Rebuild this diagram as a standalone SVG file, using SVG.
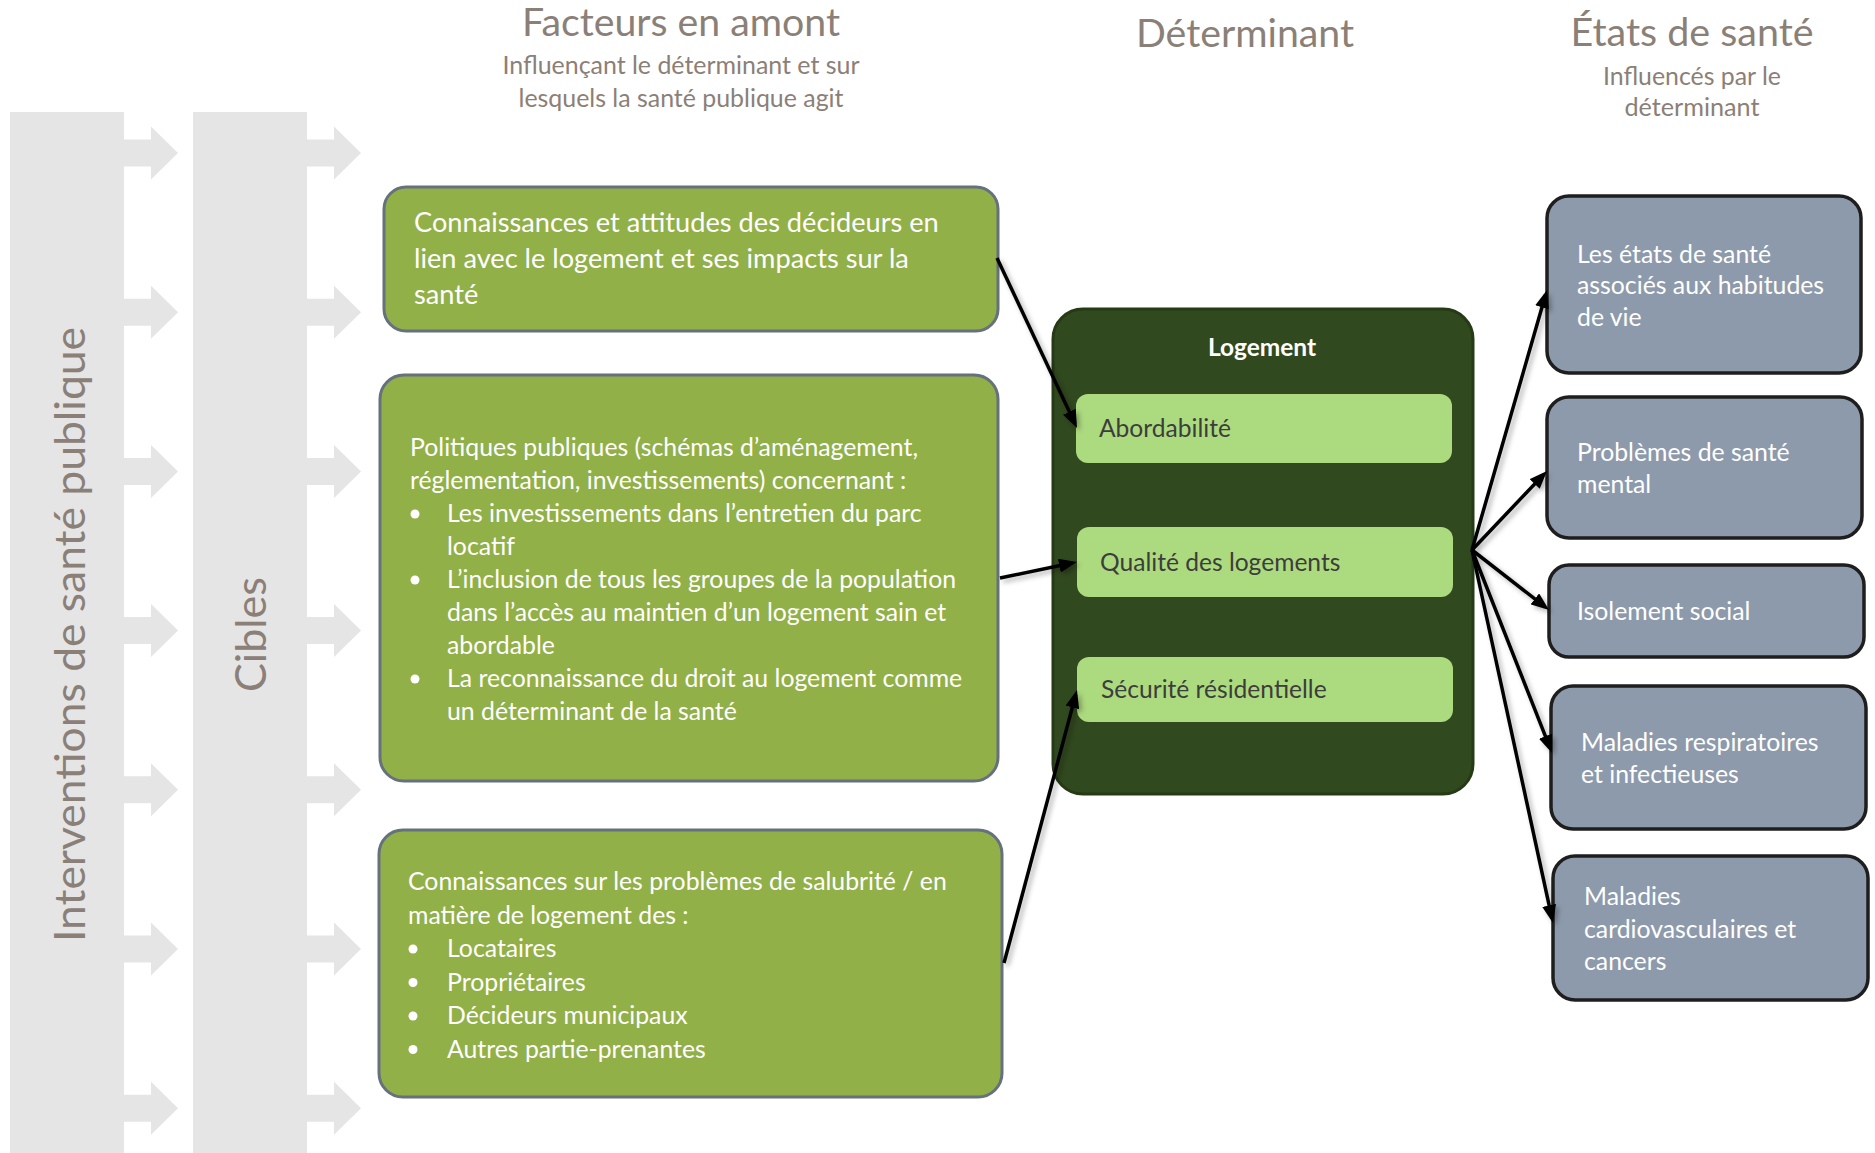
<svg xmlns="http://www.w3.org/2000/svg" width="1875" height="1153" viewBox="0 0 1875 1153">
  <style>
    .hdr { font-family: Lato, "Open Sans", sans-serif; font-weight: 400; fill: #8b8078; }
    .h1 { font-size: 38px; }
    .sub { font-size: 24.5px; }
    .side { font-family: Lato, "Open Sans", sans-serif; font-weight: 400; font-size: 43px; fill: #8b8078; }
    .gbox { fill: #92b048; stroke: #66717e; stroke-width: 3; }
    .wt { font-family: Lato, "Open Sans", sans-serif; fill: #ffffff; }
    .t265 { font-size: 24.8px; }
    .t29 { font-size: 27.2px; }
    .inner { fill: #acda7e; }
    .dt { font-family: Lato, "Open Sans", sans-serif; font-size: 24.6px; fill: #3d3d3d; }
    .rbox { fill: #8d9aab; stroke: #1e1e1e; stroke-width: 3.5; }
    .conn { stroke: #000; stroke-width: 3.5; fill: none; marker-end: url(#ah); }
    .gray { fill: #e5e5e5; }
  </style>
  <defs>
    <marker id="ah" markerUnits="userSpaceOnUse" markerWidth="18" markerHeight="14" viewBox="0 0 18 14" refX="13" refY="7" orient="auto">
      <path d="M0,0 L18,7 L0,14 z" fill="#000"/>
    </marker>
    <filter id="sh" x="-20%" y="-20%" width="140%" height="140%">
      <feDropShadow dx="3" dy="3" stdDeviation="2.5" flood-color="#000" flood-opacity="0.3"/>
    </filter>
    <path id="garrow" d="M0,-13.5 L27,-13.5 L27,-26.5 L54,0 L27,26.5 L27,13.5 L0,13.5 z"/>
  </defs>

  <!-- Left gray bars -->
  <g id="interventions">
    <rect class="gray" x="10" y="112" width="114" height="1041"/>
    <g class="gray">
      <use href="#garrow" x="124" y="153"/>
      <use href="#garrow" x="124" y="312.2"/>
      <use href="#garrow" x="124" y="471.4"/>
      <use href="#garrow" x="124" y="630.6"/>
      <use href="#garrow" x="124" y="789.8"/>
      <use href="#garrow" x="124" y="949"/>
      <use href="#garrow" x="124" y="1108.2"/>
    </g>
    <text class="side" transform="translate(85,634.5) rotate(-90)" text-anchor="middle" textLength="615" lengthAdjust="spacingAndGlyphs">Interventions de santé publique</text>
  </g>
  <g id="cibles">
    <rect class="gray" x="193" y="112" width="114" height="1041"/>
    <g class="gray">
      <use href="#garrow" x="307" y="153"/>
      <use href="#garrow" x="307" y="312.2"/>
      <use href="#garrow" x="307" y="471.4"/>
      <use href="#garrow" x="307" y="630.6"/>
      <use href="#garrow" x="307" y="789.8"/>
      <use href="#garrow" x="307" y="949"/>
      <use href="#garrow" x="307" y="1108.2"/>
    </g>
    <text class="side" transform="translate(266,634.5) rotate(-90)" text-anchor="middle" textLength="115" lengthAdjust="spacingAndGlyphs">Cibles</text>
  </g>

  <!-- Headers -->
  <g id="header-facteurs" class="hdr" text-anchor="middle">
    <text class="h1" x="681" y="36" textLength="318" lengthAdjust="spacingAndGlyphs">Facteurs en amont</text>
    <text class="sub" x="681" y="74" textLength="357" lengthAdjust="spacingAndGlyphs">Influençant le déterminant et sur</text>
    <text class="sub" x="681" y="107" textLength="325" lengthAdjust="spacingAndGlyphs">lesquels la santé publique agit</text>
  </g>
  <g id="header-determinant" class="hdr" text-anchor="middle">
    <text class="h1" x="1245" y="47" textLength="218" lengthAdjust="spacingAndGlyphs">Déterminant</text>
  </g>
  <g id="header-etats" class="hdr" text-anchor="middle">
    <text class="h1" x="1692" y="46" textLength="243" lengthAdjust="spacingAndGlyphs">États de santé</text>
    <text class="sub" x="1692" y="84.5" textLength="178" lengthAdjust="spacingAndGlyphs">Influencés par le</text>
    <text class="sub" x="1692" y="116" textLength="135" lengthAdjust="spacingAndGlyphs">déterminant</text>
  </g>

  <!-- Upstream factor boxes -->
  <g id="facteur-1">
    <rect class="gbox" x="384" y="187" width="614" height="144" rx="22"/>
    <text class="wt t29" x="414" y="232">Connaissances et attitudes des décideurs en</text>
    <text class="wt t29" x="414" y="268">lien avec le logement et ses impacts sur la</text>
    <text class="wt t29" x="414" y="304">santé</text>
  </g>
  <g id="facteur-2">
    <rect class="gbox" x="380" y="375" width="618" height="406" rx="24"/>
    <g class="wt t265">
      <text x="410" y="456">Politiques publiques (schémas d’aménagement,</text>
      <text x="410" y="489">réglementation, investissements) concernant :</text>
      <text x="447" y="522">Les investissements dans l’entretien du parc</text>
      <text x="447" y="555">locatif</text>
      <text x="447" y="588">L’inclusion de tous les groupes de la population</text>
      <text x="447" y="621">dans l’accès au maintien d’un logement sain et</text>
      <text x="447" y="654">abordable</text>
      <text x="447" y="687">La reconnaissance du droit au logement comme</text>
      <text x="447" y="720">un déterminant de la santé</text>
    </g>
    <g fill="#ffffff">
      <circle cx="415" cy="514" r="4.5"/>
      <circle cx="415" cy="580" r="4.5"/>
      <circle cx="415" cy="679" r="4.5"/>
    </g>
  </g>
  <g id="facteur-3">
    <rect class="gbox" x="379" y="830" width="623" height="267" rx="24"/>
    <g class="wt t265">
      <text x="408" y="890">Connaissances sur les problèmes de salubrité / en</text>
      <text x="408" y="923.5">matière de logement des :</text>
      <text x="447" y="957">Locataires</text>
      <text x="447" y="990.5">Propriétaires</text>
      <text x="447" y="1024">Décideurs municipaux</text>
      <text x="447" y="1057.5">Autres partie-prenantes</text>
    </g>
    <g fill="#ffffff">
      <circle cx="413" cy="949" r="4.5"/>
      <circle cx="413" cy="982.5" r="4.5"/>
      <circle cx="413" cy="1016" r="4.5"/>
      <circle cx="413" cy="1049.5" r="4.5"/>
    </g>
  </g>

  <!-- Determinant -->
  <g id="logement">
    <rect x="1053" y="309" width="420" height="485" rx="30" fill="#31491f" stroke="#263a16" stroke-width="3"/>
    <text x="1262" y="356" text-anchor="middle" font-family="Lato, 'Open Sans', sans-serif" font-weight="bold" font-size="24.5" fill="#ffffff">Logement</text>
  </g>
  <g id="abordabilite">
    <rect class="inner" x="1076" y="394" width="376" height="69" rx="12"/>
    <text class="dt" x="1099" y="437">Abordabilité</text>
  </g>
  <g id="qualite">
    <rect class="inner" x="1077" y="527" width="376" height="70" rx="12"/>
    <text class="dt" x="1100" y="571">Qualité des logements</text>
  </g>
  <g id="securite">
    <rect class="inner" x="1077" y="657" width="376" height="65" rx="12"/>
    <text class="dt" x="1101" y="698">Sécurité résidentielle</text>
  </g>

  <!-- Health states -->
  <g id="etat-1">
    <rect class="rbox" x="1547" y="196" width="314" height="177" rx="22"/>
    <text class="wt t265" x="1577" y="262.5">Les états de santé</text>
    <text class="wt t265" x="1577" y="294">associés aux habitudes</text>
    <text class="wt t265" x="1577" y="325.5">de vie</text>
  </g>
  <g id="etat-2">
    <rect class="rbox" x="1547" y="397" width="315" height="141" rx="22"/>
    <text class="wt t265" x="1577" y="461">Problèmes de santé</text>
    <text class="wt t265" x="1577" y="493">mental</text>
  </g>
  <g id="etat-3">
    <rect class="rbox" x="1549" y="565" width="315" height="92" rx="20"/>
    <text class="wt t265" x="1577" y="620">Isolement social</text>
  </g>
  <g id="etat-4">
    <rect class="rbox" x="1551" y="686" width="315" height="143" rx="22"/>
    <text class="wt t265" x="1581" y="751">Maladies respiratoires</text>
    <text class="wt t265" x="1581" y="783">et infectieuses</text>
  </g>
  <g id="etat-5">
    <rect class="rbox" x="1553" y="856" width="315" height="144" rx="22"/>
    <text class="wt t265" x="1584" y="905">Maladies</text>
    <text class="wt t265" x="1584" y="938">cardiovasculaires et</text>
    <text class="wt t265" x="1584" y="970">cancers</text>
  </g>

  <!-- Connectors -->
  <g id="connectors" filter="url(#sh)">
    <line class="conn" x1="997" y1="258" x2="1074.9" y2="423.5"/>
    <line class="conn" x1="1000" y1="578" x2="1072.1" y2="563"/>
    <line class="conn" x1="1004" y1="963" x2="1075.7" y2="694.8"/>
    <line class="conn" x1="1472" y1="550" x2="1545.6" y2="294.8"/>
    <line class="conn" x1="1472" y1="550" x2="1543.6" y2="474.6"/>
    <line class="conn" x1="1472" y1="550" x2="1545.1" y2="606.9"/>
    <line class="conn" x1="1472" y1="550" x2="1550.2" y2="748.3"/>
    <line class="conn" x1="1472" y1="550" x2="1551.9" y2="918.1"/>
  </g>
</svg>
